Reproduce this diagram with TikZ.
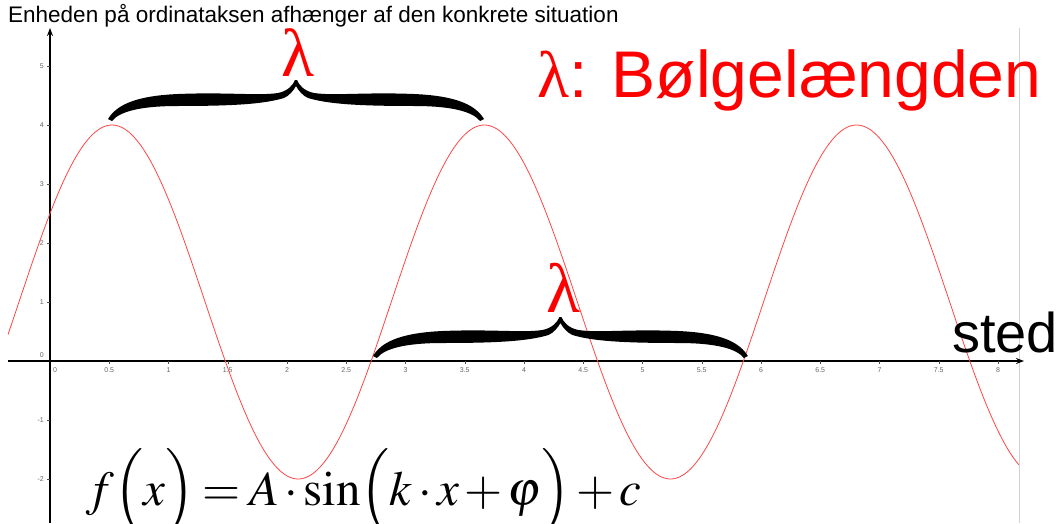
\documentclass[tikz,border=0pt]{standalone}
\usepackage{mathptmx}
\usepackage[no-math]{fontspec}
\setmainfont{Liberation Sans}
\newfontfamily\timesfont{Liberation Serif}
\usetikzlibrary{arrows.meta}
\tikzset{
  pics/bracepic/.style={code={
    \begin{scope}[x=1pt,y=1pt]
    \fill[black] (0,1) .. controls (8,14) and (25,24) .. (70,26)
      .. controls (120,28) and (150,24) .. (170,27)
      .. controls (180,29) and (185,35) .. (187,40) -- (189,40)
      .. controls (191,35) and (196,29) .. (206,27)
      .. controls (226,24) and (256,28) .. (306,26)
      .. controls (351,24) and (368,14) .. (376,1) -- (372,-1)
      .. controls (365,8) and (345,14) .. (306,14)
      .. controls (250,14) and (220,16) .. (200,22)
      .. controls (195,24) and (190,30) .. (188,34)
      .. controls (186,30) and (181,24) .. (176,22)
      .. controls (156,16) and (126,14) .. (70,14)
      .. controls (31,14) and (11,8) .. (4,-1) -- cycle;
    \end{scope}
  }}
}
\begin{document}
\begin{tikzpicture}[x=118.5pt,y=59pt,
  axis/.style={line width=2.2pt,-{Stealth[length=8pt,width=6pt]}},
  tickmark/.style={line width=0.5pt,black!70},
  ticklab/.style={font=\fontsize{7}{8}\selectfont,text=black!60,inner sep=0pt},
  curve/.style={draw={rgb,255:red,255;green,70;blue,70},line width=0.8pt},
  bigred/.style={text=red,inner sep=0pt}]
\useasboundingbox (-50pt,-162pt) rectangle (1012pt,361pt);
% grey border line
\draw[gray!35,line width=0.9pt] (969pt,333pt) -- (969pt,-162pt);
% axes
\coordinate (xs) at (-42pt,0);
\coordinate (xe) at (974pt,0);
\coordinate (ys) at (0,-162pt);
\coordinate (ye) at (0,333pt);
\draw[axis] (xs) -- (xe);
\draw[axis] (ys) -- (ye);
% ticks
\foreach \t in {0.5,1,1.5,2,2.5,3,3.5,4,4.5,5,5.5,6,6.5,7,7.5,8}{
  \draw[tickmark] (\t,0) -- ++(0,-3pt);
  \node[ticklab] at ([yshift=-9pt]\t,0) {\t};
}
\node[ticklab] (x0) at (5pt,-9pt) {0};
\foreach \t in {-2,-1,1,2,3,4,5}{
  \draw[tickmark] (0,\t) -- ++(-3pt,0);
  \node[ticklab,anchor=east] at ([xshift=-6pt]0,\t) {\t};
}
\node[ticklab,anchor=east] (y0) at (-6pt,6pt) {0};
% curve
\draw[curve] plot[domain=-0.354:8.18,samples=400,smooth] (\x,{3*sin(deg(2*\x)+30)+1});
% braces
\pic (bt) at (58pt,241pt) {bracepic};
\pic[xscale=0.997] (bb) at (323pt,4pt) {bracepic};
% lambdas
\node[bigred,anchor=base,font=\timesfont\fontsize{68}{70}\selectfont] (l1) at (248pt,284pt) {λ};
\node[bigred,anchor=base,font=\timesfont\fontsize{70}{72}\selectfont] (l2) at (513pt,49pt) {λ};
% legend
\node[bigred,anchor=base west,font=\fontsize{66}{70}\selectfont] (legend) at (487pt,264pt) {{\timesfont λ}: Bølgelængden};
% sted
\node[anchor=base west,inner sep=0pt,font=\fontsize{56}{60}\selectfont] (sted) at (902pt,9pt) {sted};
% title
\node[anchor=base west,inner sep=0pt,font=\fontsize{22.5}{25}\selectfont] (title) at (-42pt,338pt) {Enheden på ordinataksen afhænger af den konkrete situation};
% formula
\node[anchor=base west,inner sep=0pt,font=\fontsize{49}{53}\selectfont] (formula) at (36pt,-144pt) {\medmuskip=2mu\thickmuskip=3mu$f\Bigl(x\Bigr)=A\cdot\sin\Bigl(k\cdot x+\varphi\Bigr)+c$};
\end{tikzpicture}
\end{document}
